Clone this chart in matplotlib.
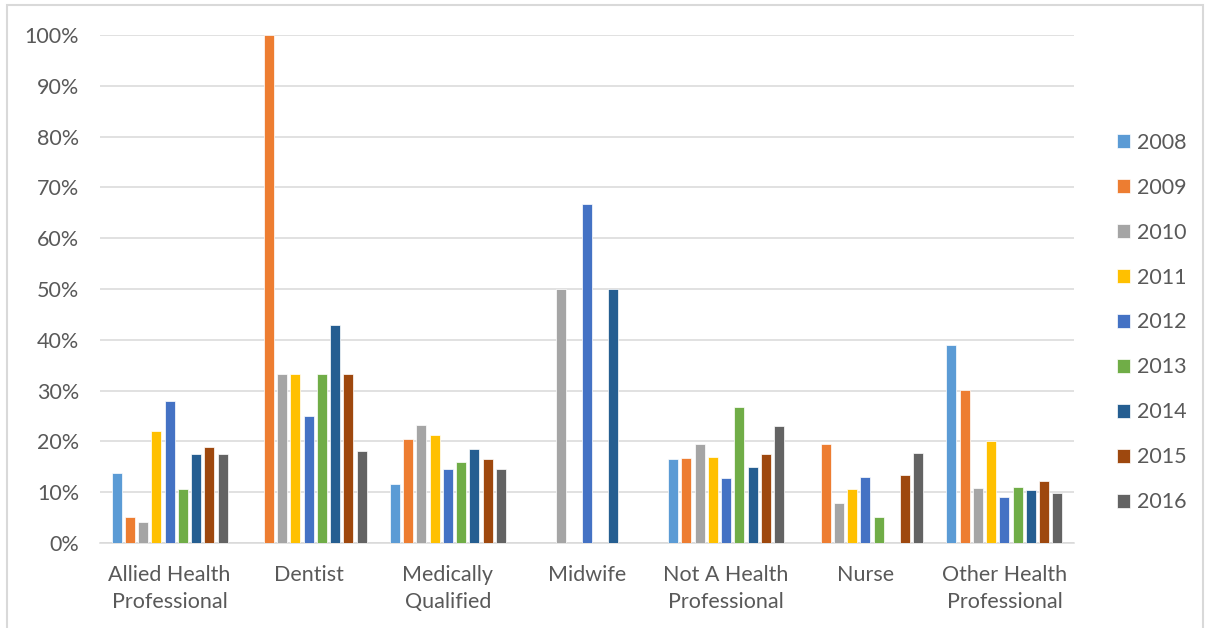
import numpy as np
import matplotlib
matplotlib.use('Agg')
import matplotlib.pyplot as plt
from matplotlib.patches import Rectangle

plt.rcParams['font.family'] = ['Lato', 'DejaVu Sans']

categories = ['Allied Health\nProfessional', 'Dentist', 'Medically\nQualified', 'Midwife',
              'Not A Health\nProfessional', 'Nurse', 'Other Health\nProfessional']
years = ['2008', '2009', '2010', '2011', '2012', '2013', '2014', '2015', '2016']
colors = ['#5B9BD5', '#ED7D31', '#A5A5A5', '#FFC000', '#4472C4', '#70AD47', '#255E91', '#9E480E', '#636363']

nan = np.nan
# percent values, one row per year, one column per category
v2008 = [13.8, nan, 11.6, nan, 16.5, nan, 39.0]
v2009 = [5.2, 100.0, 20.5, nan, 16.8, 19.4, 30.1]
v2010 = [4.1, 33.3, 23.2, 50.0, 19.5, 7.9, 10.9]
v2011 = [22.0, 33.3, 21.2, nan, 17.0, 10.6, 20.1]
v2012 = [27.9, 25.0, 14.6, 66.7, 12.8, 13.0, 9.1]
v2013 = [10.6, 33.3, 15.9, nan, 26.8, 5.1, 11.0]
v2014 = [17.5, 42.9, 18.6, 50.0, 15.0, nan, 10.4]
v2015 = [18.9, 33.3, 16.5, nan, 17.6, 13.4, 12.2]
v2016 = [17.5, 18.2, 14.6, nan, 23.1, 17.8, 9.8]
values = [v2008, v2009, v2010, v2011, v2012, v2013, v2014, v2015, v2016]

txt = '#595959'
grid = '#D9D9D9'
fs = 15.5

fig = plt.figure(figsize=(12.05, 6.28), dpi=100)
ax = fig.add_axes([100/1205, 85/628, 974/1205, 508/628])

x = np.arange(len(categories))
slot = 0.0952
width = 0.0718
for i in range(len(years)):
    off = (i - 4) * slot
    ax.bar(x + off, values[i], width=width, color=colors[i], edgecolor='white',
           linewidth=0.5, label=years[i], zorder=3)

ax.set_xlim(-0.5, len(categories) - 0.5)
ax.set_ylim(0, 100)
ax.set_yticks(range(0, 101, 10))
ax.set_yticklabels(['%d%%' % t for t in range(0, 101, 10)])
ax.set_xticks(x)
ax.set_xticklabels(categories, linespacing=1.45)
ax.tick_params(axis='both', length=0, labelsize=fs, labelcolor=txt)
ax.tick_params(axis='y', pad=15)
ax.tick_params(axis='x', pad=15.5)
ax.yaxis.grid(True, color=grid, linewidth=1.1, zorder=0)
for s in ['top', 'right', 'left']:
    ax.spines[s].set_visible(False)
ax.spines['bottom'].set_color(grid)
ax.spines['bottom'].set_linewidth(1.1)

fig.legend(loc='upper left', bbox_to_anchor=(1108/1205, 1 - 124/628), frameon=False,
           fontsize=fs, labelcolor=txt, handlelength=0.62, handleheight=0.62,
           handletextpad=0.35, labelspacing=1.16, borderaxespad=0)

fig.patches.append(Rectangle((7.5/1205, -0.05), 1195/1205, 1.05 - 5.5/628,
                             transform=fig.transFigure, fill=False,
                             edgecolor=grid, linewidth=1.5))

fig.savefig('out.png', dpi=100)
